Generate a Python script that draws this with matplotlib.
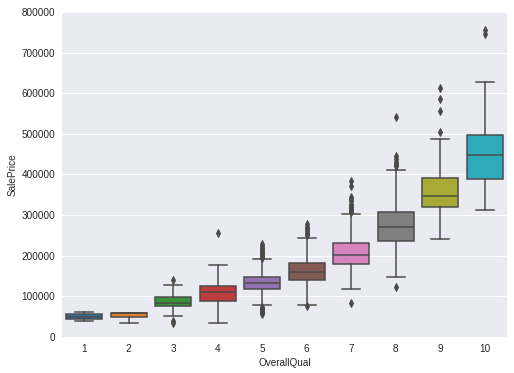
import numpy as np
import matplotlib
matplotlib.use("Agg")
import matplotlib.pyplot as plt

# values
qual = [1, 2, 3, 4, 5, 6, 7, 8, 9, 10]
q1 = [44700, 48500, 76300, 89400, 118200, 140300, 179700, 237000, 320000, 388900]
med = [50150, 60000, 84000, 110000, 132900, 160700, 201800, 270800, 347800, 448700]
q3 = [55600, 60000, 99200, 126300, 148500, 182900, 232100, 308400, 392100, 497200]
whislo = [39300, 35300, 51700, 35200, 78800, 79000, 118900, 148400, 242000, 312600]
whishi = [61000, 60000, 128000, 178000, 192700, 244400, 303500, 411800, 487400, 628400]
fliers = [
    [],
    [],
    [139600, 35000, 39300],
    [256700],
    [195000, 197000, 200000, 205000, 207500, 210000, 214000, 216000, 220000,
     225000, 229000, 55993, 60000, 62383, 64500, 67000, 68400, 72500, 75000],
    [250000, 253000, 256000, 260000, 265000, 269500, 272000, 277000, 76000],
    [307000, 310000, 313000, 315000, 318000, 320000, 325000, 328000, 335000,
     340000, 345000, 372000, 384000, 83000],
    [421000, 424000, 426000, 430000, 438000, 445000, 540800, 122300],
    [503800, 557000, 585000, 613700],
    [745000, 755000],
]
colors = ["#3274a1", "#e1812c", "#3a923a", "#c03d3e", "#9372b2",
          "#845b53", "#d684bd", "#7f7f7f", "#a9aa35", "#2eabb8"]
gray = "#4a4a4a"

plt.rcParams["font.family"] = ["Liberation Sans", "DejaVu Sans"]
plt.rcParams["font.size"] = 10

fig = plt.figure(figsize=(514 / 72, 373 / 72), dpi=72)
ax = fig.add_axes([62 / 514, 36 / 373, 445 / 514, 325 / 373])
ax.set_facecolor("#eaeaf2")
for s in ax.spines.values():
    s.set_visible(False)

stats = []
for i in range(len(qual)):
    stats.append(dict(med=med[i], q1=q1[i], q3=q3[i], whislo=whislo[i],
                      whishi=whishi[i], fliers=fliers[i], label=str(qual[i])))

bp = ax.bxp(stats, positions=np.arange(len(qual)), widths=0.8, patch_artist=True,
            boxprops=dict(edgecolor=gray, linewidth=1.5),
            medianprops=dict(color=gray, linewidth=1.5),
            whiskerprops=dict(color=gray, linewidth=1.5),
            capprops=dict(color=gray, linewidth=1.5),
            flierprops=dict(marker="d", markerfacecolor=gray, markeredgecolor=gray,
                            markersize=5, linestyle="none"))
for patch, c in zip(bp["boxes"], colors):
    patch.set_facecolor(c)

ax.set_xlim(-0.5, len(qual) - 0.5)
ax.set_ylim(0, 800000)
ax.set_yticks(np.arange(0, 800001, 100000))
ax.ticklabel_format(axis="y", style="plain")
ax.yaxis.grid(True, color="white", linewidth=1)
ax.xaxis.grid(False)
ax.set_axisbelow(True)
ax.tick_params(length=0, colors="#262626", labelsize=10, pad=7)
ax.set_xlabel("OverallQual", color="#262626", fontsize=10, labelpad=4)
ax.set_ylabel("SalePrice", color="#262626", fontsize=10, labelpad=4)

fig.savefig("out.png", dpi=72)
